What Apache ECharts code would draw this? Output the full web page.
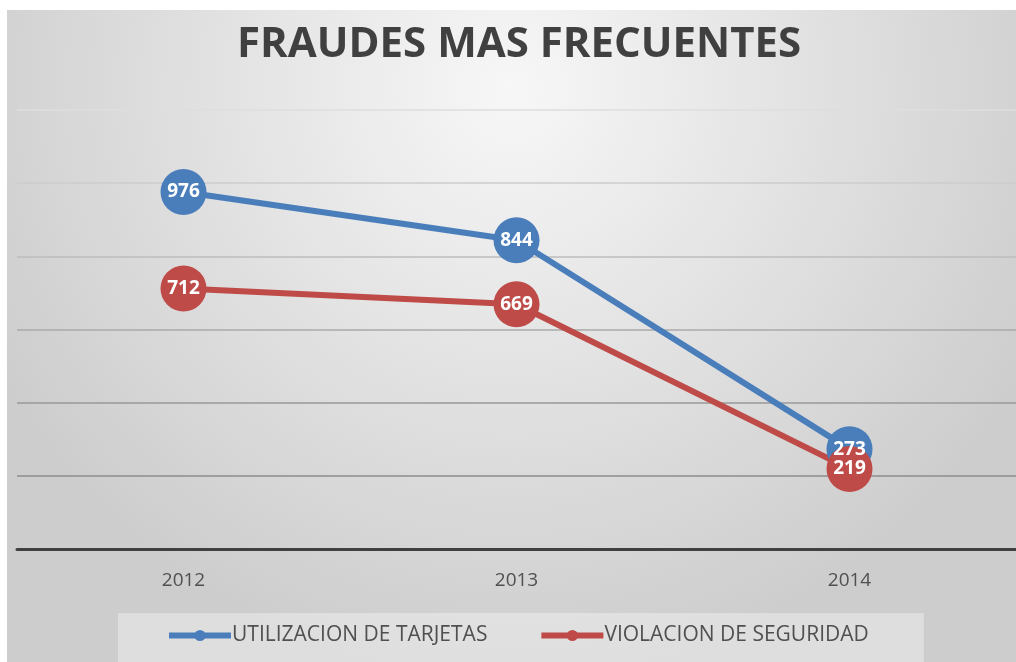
<!DOCTYPE html>
<html><head><meta charset="utf-8">
<script src="https://cdn.jsdelivr.net/npm/echarts@6/dist/echarts.min.js"></script>
<style>
html,body{margin:0;padding:0;background:#fff;width:1016px;height:662px;overflow:hidden}
#c{position:absolute;left:7px;top:10px;width:1009px;height:652px}
</style></head><body><div id="c"></div>
<script>
const titleText = 'FRAUDES MAS FRECUENTES';
const categories = ['2012', '2013', '2014'];
const seriesNames = ['UTILIZACION DE TARJETAS', 'VIOLACION DE SEGURIDAD'];
const tarjetas = [976, 844, 273];
const seguridad = [712, 669, 219];
const yMax = 1200, yInterval = 200;

const chart = echarts.init(document.getElementById('c'));
const font = '"Open Sans", "Liberation Sans", sans-serif';
function mk(name, data, color) {
  return {
    name, type: 'line', data,
    symbol: 'circle', symbolSize: 46,
    lineStyle: { width: 6, color },
    itemStyle: { color },
    label: { show: true, position: 'inside', color: '#fff', fontWeight: 'bold', fontSize: 19, fontFamily: font },
    z: 3
  };
}
chart.setOption({
  backgroundColor: {
    type: 'radial', x: 0.5, y: 0.12, r: 0.9,
    colorStops: [{ offset: 0, color: '#f7f7f7' }, { offset: 1, color: '#cdcdcd' }]
  },
  animation: false,
  title: {
    text: titleText, left: 225, top: 9,
    textStyle: { fontFamily: font, fontWeight: 'bold', fontSize: 42, color: '#404040' }
  },
  grid: { left: 10, top: 100, width: 1002, bottom: 113, containLabel: false },
  xAxis: {
    type: 'category', data: categories, boundaryGap: true,
    axisLine: { lineStyle: { color: '#404040', width: 3 } },
    axisTick: { show: false },
    axisLabel: { margin: 22, fontSize: 19, fontWeight: 500, color: '#505050', fontFamily: font }
  },
  yAxis: {
    type: 'value', min: 0, max: yMax, interval: yInterval,
    axisLine: { show: false }, axisLabel: { show: false }, axisTick: { show: false },
    splitLine: { lineStyle: { width: 1.5, color: ['#888', '#8c8c8c', '#999', '#aaa', '#bdbdbd', '#cdcdcd', '#dedede'] } }
  },
  legend: {
    bottom: -6, left: 111,
    backgroundColor: 'rgba(255,255,255,0.35)',
    padding: [12, 55, 22, 48],
    itemGap: 51, itemWidth: 62, itemHeight: 14,
    lineStyle: { width: 6 },
    textStyle: { fontSize: 21, color: '#505050', fontFamily: font, padding: [0, 0, 0, -4] },
    data: seriesNames
  },
  series: [mk(seriesNames[0], tarjetas, '#4a7ebb'), mk(seriesNames[1], seguridad, '#be4b48')]
});
</script></body></html>
